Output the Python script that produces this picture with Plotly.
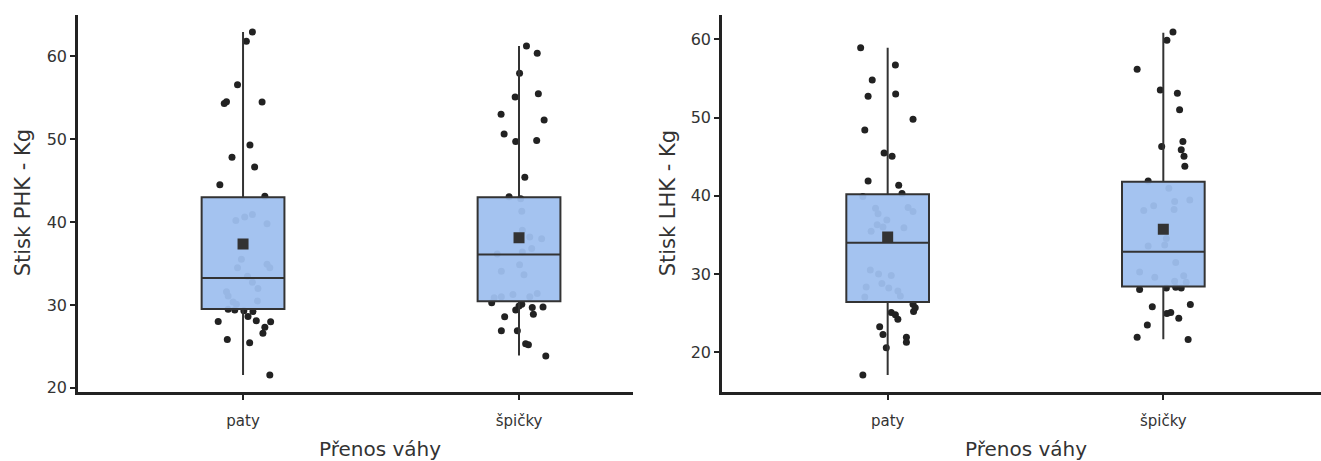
import plotly.graph_objects as go

categories = ["paty", "špičky"]

# ---- Stisk PHK (left panel) ----
phk_paty = [62.94, 61.8, 56.55, 54.3, 54.5, 54.49, 49.29, 47.82, 46.63, 44.49, 43.1,
            40.2, 40.6, 40.9, 39.8, 35.5, 34.5, 34.9, 34.5, 33.45, 32.74, 31.98, 31.58,
            31.07, 30.48, 30.36, 30.08, 29.49, 29.4,
            29.3, 29.2, 28.6, 28.0, 28.1, 27.98, 27.3, 26.6, 25.83, 25.44, 21.55]
phk_paty_jit = [0.034, 0.012, -0.02, -0.068, -0.06, 0.069, 0.025, -0.04, 0.042, -0.084, 0.079,
                -0.026, 0.006, 0.034, 0.087, -0.006, -0.02, 0.087, 0.097, 0.016, 0.034, 0.054, -0.06,
                -0.054, 0.052, -0.036, -0.024, -0.054, -0.03,
                0.003, 0.036, 0.018, -0.09, 0.048, 0.1, 0.079, 0.072, -0.057, 0.024, 0.097]
phk_spicky = [61.23, 60.36, 57.94, 55.48, 55.08, 53.01, 52.3, 50.63, 49.73, 49.85, 45.39, 43.06,
              42.8, 41.3, 39.0, 38.2, 38.0, 36.15, 36.8, 36.4, 34.85, 34.05, 33.65, 31.27, 30.99,
              30.87, 30.99, 31.39,
              30.27, 30.08, 29.88, 29.4, 29.68, 29.76, 28.89, 28.57, 26.9, 26.9, 25.32, 25.2, 23.85]
phk_spicky_jit = [0.027, 0.066, 0.002, 0.07, -0.014, -0.065, 0.091, -0.054, -0.012, 0.064, 0.021, -0.036,
                  0.006, 0.01, 0.012, 0.039, 0.082, -0.079, 0.046, 0.012, 0.002, -0.064, 0.018, -0.022, -0.064,
                  -0.09, 0.039, 0.066,
                  -0.099, 0.01, 0.0, -0.012, 0.048, 0.087, 0.052, -0.052, -0.064, -0.006, 0.024, 0.034, 0.097]
phk_q1 = [29.5, 30.45]
phk_median = [33.25, 36.1]
phk_q3 = [43.0, 43.0]
phk_low = [21.55, 23.9]
phk_high = [62.94, 61.23]
phk_mean = [37.35, 38.1]

# ---- Stisk LHK (right panel) ----
lhk_paty = [58.94, 56.74, 54.81, 52.75, 53.04, 49.8, 48.41, 45.47, 45.05, 41.89, 41.34, 40.3,
            39.9, 38.4, 37.7, 38.5, 38.0, 36.9, 36.3, 36.0, 35.9, 35.45, 30.5, 30.0, 29.8, 28.76,
            28.33, 28.2, 27.8, 27.16, 27.03,
            26.11, 25.68, 25.18, 25.05, 24.76, 24.2, 23.25, 22.24, 21.9, 21.26, 20.55, 17.06]
lhk_paty_jit = [-0.098, 0.028, -0.056, -0.071, 0.029, 0.092, -0.083, -0.013, 0.016, -0.071, 0.04, 0.052,
                -0.09, -0.044, -0.035, 0.074, 0.092, -0.003, -0.038, -0.017, 0.059, -0.06, -0.063, -0.033,
                0.013, -0.021, -0.078, 0.004, 0.037, 0.046, -0.083,
                0.092, 0.1, 0.094, 0.013, 0.028, 0.037, -0.029, -0.017, 0.068, 0.068, -0.005, -0.09]
lhk_spicky = [60.96, 59.9, 56.2, 53.55, 53.13, 51.02, 46.94, 46.3, 45.88, 45.05, 43.79, 41.9,
              40.96, 39.45, 39.28, 38.73, 38.1, 38.23, 34.52, 33.56, 33.7, 31.45, 30.23, 29.56,
              29.77, 29.05, 28.93,
              28.0, 28.2, 28.3, 28.2, 25.8, 26.1, 24.93, 25.05, 24.34, 23.46, 21.9, 21.6]
lhk_spicky_jit = [0.035, 0.013, -0.095, -0.011, 0.051, 0.059, 0.071, -0.006, 0.065, 0.075, 0.078, -0.055,
                  0.02, 0.096, 0.041, -0.035, -0.071, 0.039, 0.011, -0.055, 0.005, 0.045, -0.086, -0.031,
                  0.074, 0.041, 0.083,
                  -0.086, 0.011, 0.045, 0.065, -0.04, 0.098, 0.013, 0.027, 0.056, -0.058, -0.095, 0.09]
lhk_q1 = [26.4, 28.4]
lhk_median = [33.98, 32.84]
lhk_q3 = [40.2, 41.8]
lhk_low = [17.06, 21.65]
lhk_high = [58.94, 60.85]
lhk_mean = [34.73, 35.7]

y_titles = ["Stisk PHK - Kg", "Stisk LHK - Kg"]
x_title = "Přenos váhy"

W, H = 1321, 461
POINT = "#222222"
DARK = "#333333"
FILL = "rgba(159,192,239,0.95)"
FONT = "DejaVu Sans"

fig = go.Figure()


def add_panel(fig, xa, ya, xo, yo, g1, j1, g2, j2, q1, med, q3, lo, hi, mean):
    xs = [0 + j for j in j1] + [1 + j for j in j2]
    ys = list(g1) + list(g2)
    fig.add_trace(go.Scatter(x=xs, y=ys, mode="markers", xaxis=xa, yaxis=ya,
                             marker=dict(size=7, color=POINT, line=dict(width=0)),
                             showlegend=False, hoverinfo="y"))
    fig.add_trace(go.Box(x=[0, 1], q1=q1, median=med, q3=q3, lowerfence=lo, upperfence=hi,
                         xaxis=xo, yaxis=yo, width=0.3, whiskerwidth=0, boxpoints=False,
                         fillcolor=FILL, line=dict(color=DARK, width=2), showlegend=False))
    fig.add_trace(go.Scatter(x=[0, 1], y=mean, mode="markers", xaxis=xo, yaxis=yo,
                             marker=dict(symbol="square", size=11, color=DARK, line=dict(width=0)),
                             showlegend=False))


add_panel(fig, "x", "y", "x3", "y3", phk_paty, phk_paty_jit, phk_spicky, phk_spicky_jit,
          phk_q1, phk_median, phk_q3, phk_low, phk_high, phk_mean)
add_panel(fig, "x2", "y2", "x4", "y4", lhk_paty, lhk_paty_jit, lhk_spicky, lhk_spicky_jit,
          lhk_q1, lhk_median, lhk_q3, lhk_low, lhk_high, lhk_mean)

ydom = [64 / H, 446 / H]
xdom1 = [78 / W, 633 / W]
xdom2 = [722 / W, 1.0]
xr1 = [-0.598, 1.413]
xr2 = [-0.601, 1.572]
yr1 = [19.52, 65.0]
yr2 = [14.91, 63.16]

xax = dict(showgrid=False, zeroline=False, showline=True, linecolor="#222222", linewidth=2.5,
           ticks="outside", ticklen=5, tickwidth=1.5, tickcolor="#222222",
           tickvals=[0, 1], ticktext=categories, ticklabelstandoff=8,
           tickfont=dict(family=FONT, size=15, color=DARK))
yax = dict(showgrid=False, zeroline=False, showline=True, linecolor="#222222", linewidth=2.5,
           ticks="outside", ticklen=5, tickwidth=1.5, tickcolor="#222222",
           tickvals=[20, 30, 40, 50, 60],
           tickfont=dict(family=FONT, size=16, color=DARK))
hidden = dict(visible=False, showgrid=False, zeroline=False)

fig.update_layout(
    width=W, height=H, margin=dict(l=0, r=0, t=0, b=0),
    paper_bgcolor="white", plot_bgcolor="rgba(0,0,0,0)",
    showlegend=False, boxmode="overlay",
    xaxis=dict(**xax, domain=xdom1, range=xr1, anchor="y"),
    yaxis=dict(**yax, domain=ydom, range=yr1, anchor="x"),
    xaxis2=dict(**xax, domain=xdom2, range=xr2, anchor="y2"),
    yaxis2=dict(**yax, domain=ydom, range=yr2, anchor="x2"),
    xaxis3=dict(**hidden, overlaying="x", range=xr1, anchor="y3"),
    yaxis3=dict(**hidden, overlaying="y", range=yr1, anchor="x3"),
    xaxis4=dict(**hidden, overlaying="x2", range=xr2, anchor="y4"),
    yaxis4=dict(**hidden, overlaying="y2", range=yr2, anchor="x4"),
)

ann = []
for xc, t in [(380, x_title), (1026, x_title)]:
    ann.append(dict(text=t, xref="paper", yref="paper", x=xc / W, y=(H - 441) / H,
                    xanchor="center", yanchor="top", showarrow=False,
                    font=dict(family=FONT, size=20, color=DARK)))
for xc, t in [(23, y_titles[0]), (668, y_titles[1])]:
    ann.append(dict(text=t, xref="paper", yref="paper", x=xc / W, y=(H - 206) / H,
                    xanchor="center", yanchor="middle", textangle=-90, showarrow=False,
                    font=dict(family=FONT, size=21, color=DARK)))
fig.update_layout(annotations=ann)

fig.write_html("out.html")
